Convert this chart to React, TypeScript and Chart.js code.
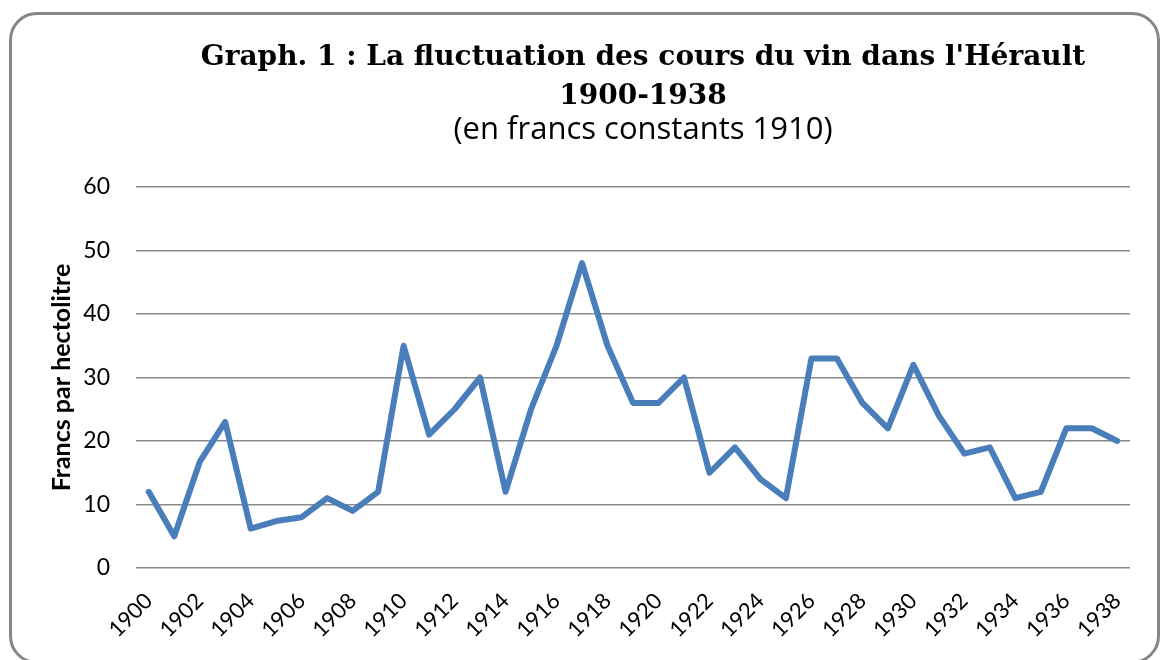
import React, { useEffect, useRef } from "react";
import { Chart, registerables } from "chart.js";

Chart.register(...registerables);

const years: string[] = [
  "1900", "1901", "1902", "1903", "1904", "1905", "1906", "1907", "1908", "1909",
  "1910", "1911", "1912", "1913", "1914", "1915", "1916", "1917", "1918", "1919",
  "1920", "1921", "1922", "1923", "1924", "1925", "1926", "1927", "1928", "1929",
  "1930", "1931", "1932", "1933", "1934", "1935", "1936", "1937", "1938",
];

const prices: number[] = [
  12, 5, 16.7, 23, 6.2, 7.4, 8, 11, 9, 12,
  35, 21, 25, 30, 12, 25, 35, 48, 35, 26,
  26, 30, 15, 19, 14, 11, 33, 33, 26, 22,
  32, 24, 18, 19, 11, 12, 22, 22, 20,
];

const titleLine1 = "Graph. 1 : La fluctuation des cours du vin dans l'Hérault";
const titleLine2 = "1900-1938";
const subtitle = "(en francs constants 1910)";
const yTitle = "Francs par hectolitre";

const titlePlugin = {
  id: "customTitle",
  afterDraw(chart: any) {
    const ctx = chart.ctx as CanvasRenderingContext2D;
    ctx.save();
    ctx.fillStyle = "#000";
    ctx.textAlign = "center";
    ctx.textBaseline = "alphabetic";
    const cx = 631;
    ctx.font = "bold 28px 'DejaVu Serif'";
    ctx.fillText(titleLine1, cx, 50);
    ctx.fillText(titleLine2, cx, 89);
    ctx.font = "31px 'Open Sans'";
    ctx.fillText(subtitle, cx, 124);
    ctx.restore();
  },
};

export default function App() {
  const canvasRef = useRef<HTMLCanvasElement | null>(null);

  useEffect(() => {
    if (!canvasRef.current) return;
    const chart = new Chart(canvasRef.current, {
      type: "line",
      data: {
        labels: years,
        datasets: [
          {
            data: prices,
            borderColor: "#4a7ebb",
            borderWidth: 6,
            pointRadius: 0,
            pointHoverRadius: 0,
            tension: 0,
            borderJoinStyle: "round",
            borderCapStyle: "round",
            fill: false,
          },
        ],
      },
      options: {
        animation: false,
        responsive: false,
        maintainAspectRatio: false,
        layout: { padding: { top: 172, right: 27, left: 0, bottom: 0 } },
        plugins: {
          legend: { display: false },
          tooltip: { enabled: false },
          title: { display: false },
        },
        scales: {
          x: {
            type: "category",
            offset: true,
            grid: { display: false, drawTicks: false },
            border: { display: false },
            ticks: {
              autoSkip: false,
              maxRotation: 45,
              minRotation: 45,
              padding: 20,
              color: "#000",
              font: { family: "Lato", size: 22 },
              callback: function (this: any, _v: any, i: number) {
                return i % 2 === 0 ? years[i] : "";
              },
            },
            afterFit(scale: any) {
              scale.height = 93;
            },
          },
          y: {
            min: 0,
            max: 60,
            ticks: {
              stepSize: 10,
              padding: 26,
              color: "#000",
              font: { family: "Lato", size: 23 },
            },
            grid: { color: "#8a8a8a", lineWidth: 1.5, drawTicks: false },
            border: { display: false },
            title: {
              display: true,
              text: yTitle,
              color: "#000",
              font: { family: "Lato", size: 25, weight: "bold" },
              padding: { top: 35, bottom: 0 },
            },
            afterFit(scale: any) {
              scale.width = 124;
            },
          },
        },
      },
      plugins: [titlePlugin],
    });
    return () => chart.destroy();
  }, []);

  return (
    <div
      style={{
        position: "absolute",
        left: 9,
        top: 12,
        width: 1151,
        height: 652,
        border: "3px solid #868686",
        borderRadius: 28,
        boxSizing: "border-box",
        background: "#fff",
        overflow: "hidden",
      }}
    >
      <canvas ref={canvasRef} width={1145} height={646} style={{ display: "block" }} />
    </div>
  );
}
